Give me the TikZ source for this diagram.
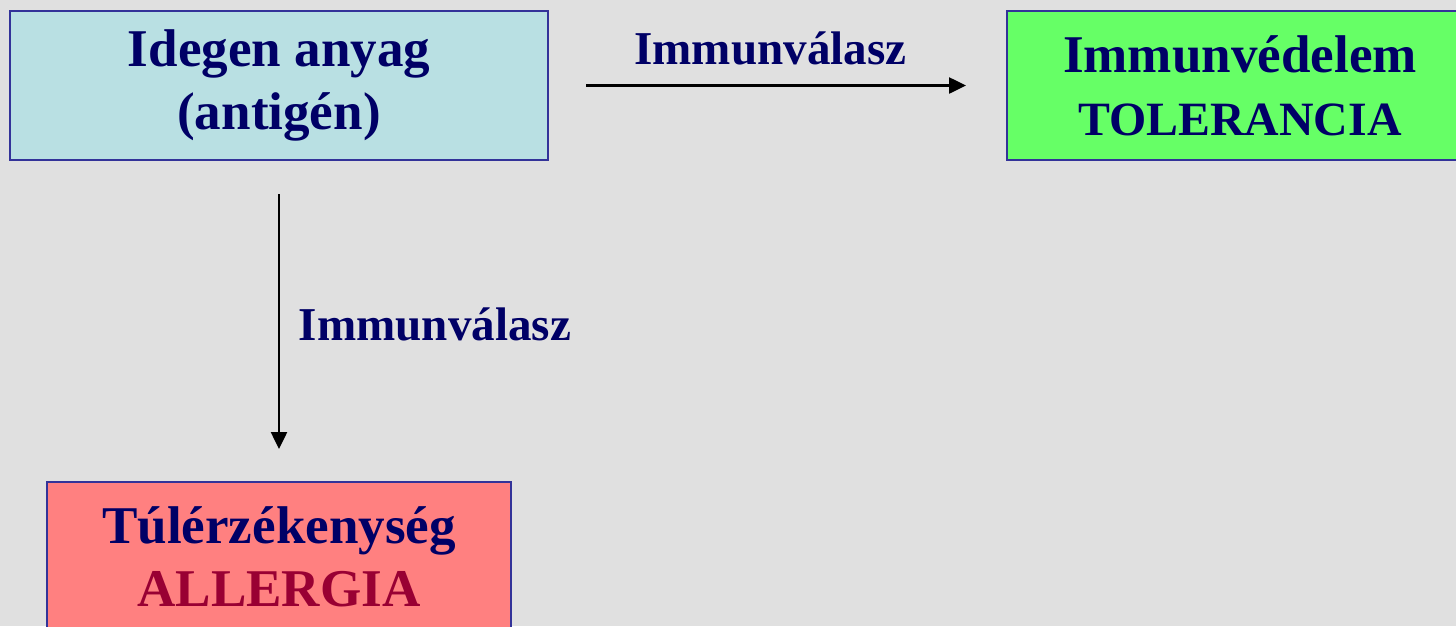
\documentclass[tikz,border=0pt]{standalone}
\usepackage{fontspec}
\setmainfont{Liberation Serif}
\usetikzlibrary{arrows.meta,positioning}

\definecolor{bggray}{HTML}{E0E0E0}
\definecolor{navytext}{HTML}{000066}
\definecolor{boxline}{HTML}{333399}
\definecolor{antigenblue}{HTML}{B9E0E3}
\definecolor{tolgreen}{HTML}{66FF66}
\definecolor{allred}{HTML}{FF8080}
\definecolor{allwine}{HTML}{990033}

\tikzset{
    box/.style={draw=boxline, line width=0.02cm, inner sep=0pt, align=center,
        text=navytext, font=\fontsize{15.1}{17.9}\selectfont\bfseries},
    edgelabel/.style={text=navytext, font=\fontsize{13.4}{16}\selectfont\bfseries}
}

\begin{document}
\begin{tikzpicture}[>={Triangle[length=0.17cm,width=0.16cm]}, line width=0.025cm, auto]
    % Background
    \clip (0,0) rectangle (14.56,-6.26);
    \fill [bggray] (0,0) rectangle (14.56,-6.26);

    % Nodes {idegen, vedelem, allergia}
    \node [box, fill=antigenblue, minimum width=5.38cm, minimum height=1.49cm]
        (idegen) at (2.79,-0.855) {Idegen anyag\\(antigén)};
    \node [box, fill=tolgreen, minimum width=4.66cm, minimum height=1.49cm]
        (vedelem) [right=4.57cm of idegen] {Immunvédelem\\{\fontsize{13.6}{17.9}\selectfont TOLERANCIA}};
    \node [box, fill=allred, minimum width=4.64cm, minimum height=1.5cm]
        (allergia) [below=3.2cm of idegen] {Túlérzékenység\\\textcolor{allwine}{ALLERGIA}};

    % Paths
    \path [->, shorten <=0.37cm, shorten >=0.40cm]
        (idegen) edge node [edgelabel, xshift=-0.07cm, yshift=0.07cm] {Immunválasz} (vedelem);
    \path [->, shorten <=0.33cm, shorten >=0.32cm]
        (idegen) edge node [edgelabel, xshift=0.07cm, yshift=-0.03cm] {Immunválasz} (allergia);
\end{tikzpicture}
\end{document}
